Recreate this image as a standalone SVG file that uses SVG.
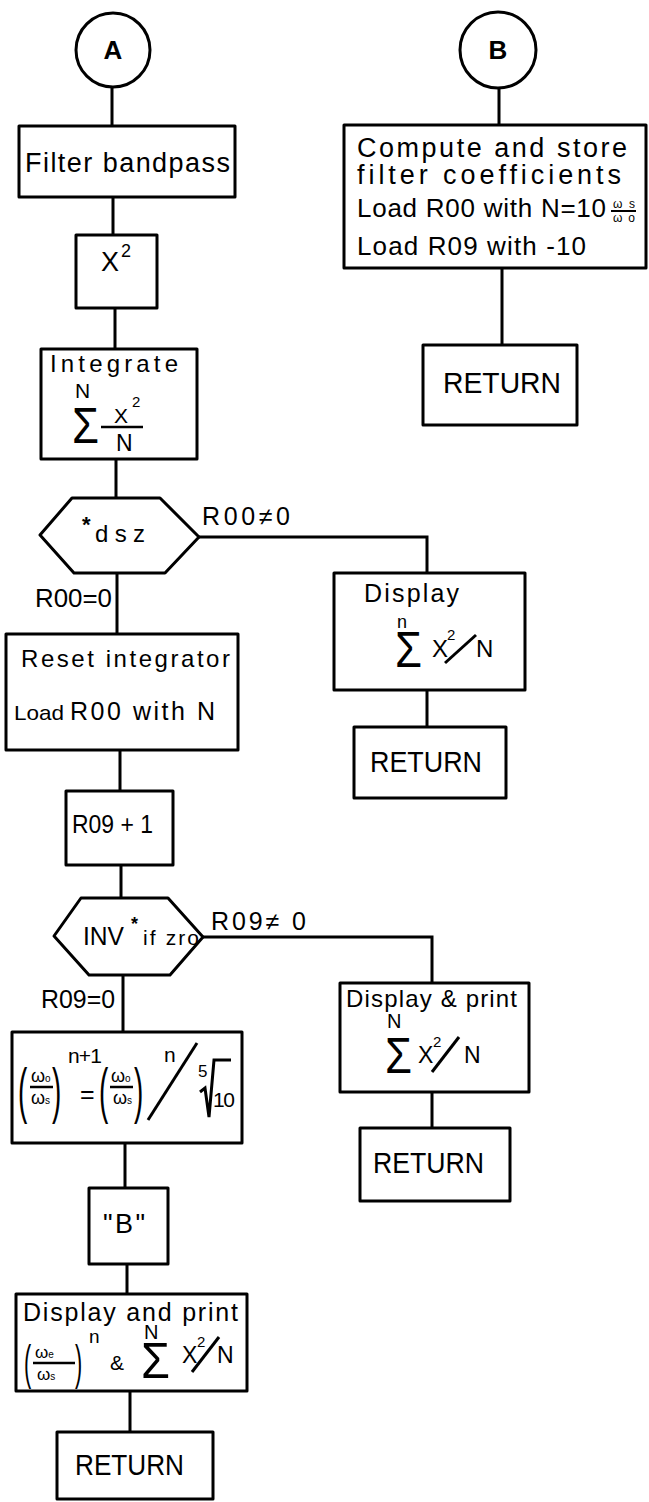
<svg xmlns="http://www.w3.org/2000/svg" width="649" height="1502" viewBox="0 0 649 1502">
<style>
.b{fill:#fff;stroke:#000;stroke-width:3;stroke-linejoin:round}
.c{fill:none;stroke:#000;stroke-width:3}
.s{fill:none;stroke:#000;stroke-width:2.5}
text{font-family:"Liberation Sans",Arial,sans-serif;fill:#000}
.t{font-size:25px}
.r{font-size:29px}
.g{font-size:50px}
</style>
<rect width="649" height="1502" fill="#fff"/>
<g id="connectors">
<path class="c" d="M112 87V126M113 197V235M115 308V349M116 459V498M117 573V634M120 750V791M121 865V898M123 975V1032M125 1143V1188M127 1264V1294M130 1391V1432"/>
<path class="c" d="M499 87V125M502 268V345"/>
<path class="c" d="M199 537H427V573M427 690V727"/>
<path class="c" d="M203 937H432V983M432 1092V1128"/>
<text class="t" x="202" y="525" textLength="88">R00≠0</text>
<text class="t" x="35" y="607" textLength="77" lengthAdjust="spacingAndGlyphs">R00=0</text>
<text class="t" x="211" y="930" textLength="95">R09≠ 0</text>
<text class="t" x="41" y="1008" textLength="74" lengthAdjust="spacingAndGlyphs">R09=0</text>
</g>
<g id="nodeA">
<circle class="b" cx="113" cy="50" r="37"/>
<text x="113" y="59" font-size="26" font-weight="bold" text-anchor="middle">A</text>
</g>
<g id="nodeB">
<circle class="b" cx="498" cy="50" r="38"/>
<text x="498" y="59" font-size="26" font-weight="bold" text-anchor="middle">B</text>
</g>
<g id="filter">
<rect class="b" x="19" y="126" width="216" height="71"/>
<text x="25" y="172" font-size="27" textLength="205">Filter bandpass</text>
</g>
<g id="square">
<rect class="b" x="76" y="235" width="81" height="73"/>
<text x="101" y="271" font-size="27">X</text>
<text x="121" y="257" font-size="18">2</text>
</g>
<g id="integrate">
<rect class="b" x="41" y="349" width="156" height="110"/>
<text x="50" y="372" font-size="24" textLength="128">Integrate</text>
<text x="75" y="398" font-size="21">N</text>
<text class="g" x="72" y="443" textLength="27" lengthAdjust="spacingAndGlyphs">Σ</text>
<text x="114" y="423" font-size="21">X</text>
<text x="132" y="407" font-size="15">2</text>
<line class="s" x1="101" y1="427" x2="143" y2="427"/>
<text x="116" y="451" font-size="23">N</text>
</g>
<g id="dsz">
<polygon class="b" points="40,535 72,498 160,498 199,537 165,573 74,573"/>
<text x="82" y="532" font-size="22" font-weight="bold">*</text>
<text x="95" y="542" font-size="24" textLength="50">dsz</text>
</g>
<g id="storeCoeffs">
<rect class="b" x="344" y="125" width="302" height="143"/>
<text x="357" y="157" font-size="27" textLength="270">Compute and store</text>
<text x="357" y="184" font-size="27" textLength="264">filter coefficients</text>
<text x="357" y="217" font-size="26" textLength="249">Load R00 with N=10</text>
<text x="613" y="208" font-size="12" textLength="22">ωs</text>
<line x1="611" y1="211" x2="636" y2="211" stroke="#000" stroke-width="2"/>
<text x="613" y="222" font-size="12" textLength="22">ωo</text>
<text x="357" y="255" font-size="26" textLength="229">Load R09 with -10</text>
</g>
<g id="returnB">
<rect class="b" x="423" y="345" width="154" height="80"/>
<text class="r" x="443" y="393" textLength="118" lengthAdjust="spacingAndGlyphs">RETURN</text>
</g>
<g id="display1">
<rect class="b" x="334" y="573" width="191" height="117"/>
<text class="t" x="364" y="602" textLength="95">Display</text>
<text x="397" y="628" font-size="18">n</text>
<text class="g" x="395" y="667" textLength="27" lengthAdjust="spacingAndGlyphs">Σ</text>
<text x="432" y="657" font-size="24">X</text>
<text x="447" y="640" font-size="15">2</text>
<line class="c" x1="445" y1="663" x2="476" y2="635"/>
<text x="476" y="657" font-size="24">N</text>
</g>
<g id="return1">
<rect class="b" x="354" y="727" width="152" height="71"/>
<text class="r" x="370" y="772" textLength="112" lengthAdjust="spacingAndGlyphs">RETURN</text>
</g>
<g id="reset">
<rect class="b" x="6" y="634" width="232" height="116"/>
<text x="21" y="667" font-size="24" textLength="209">Reset integrator</text>
<text x="14" y="720" font-size="21" textLength="50" lengthAdjust="spacingAndGlyphs">Load</text>
<text class="t" x="70" y="720" textLength="145">R00 with N</text>
</g>
<g id="r09inc">
<rect class="b" x="66" y="791" width="107" height="74"/>
<text class="t" x="72" y="833" textLength="81" lengthAdjust="spacingAndGlyphs">R09 + 1</text>
</g>
<g id="invzro">
<polygon class="b" points="54,936 81,898 168,898 203,937 170,975 89,975"/>
<text x="83" y="945" font-size="25" textLength="41" lengthAdjust="spacingAndGlyphs">INV</text>
<text x="131" y="930" font-size="18" font-weight="bold">*</text>
<text x="143" y="945" font-size="21" textLength="56">if zro</text>
</g>
<g id="display2">
<rect class="b" x="340" y="983" width="189" height="109"/>
<text x="346" y="1007" font-size="24" textLength="171">Display &amp; print</text>
<text x="387" y="1028" font-size="20">N</text>
<text class="g" x="385" y="1073" textLength="27" lengthAdjust="spacingAndGlyphs">Σ</text>
<text x="418" y="1063" font-size="23">X</text>
<text x="433" y="1047" font-size="15">2</text>
<line class="c" x1="432" y1="1072" x2="459" y2="1037"/>
<text x="464" y="1063" font-size="23">N</text>
</g>
<g id="return2">
<rect class="b" x="360" y="1128" width="150" height="73"/>
<text class="r" x="373" y="1173" textLength="111" lengthAdjust="spacingAndGlyphs">RETURN</text>
</g>
<g id="ratio">
<rect class="b" x="12" y="1032" width="230" height="111"/>
<text x="0" y="0" font-size="62" transform="translate(18,1111) scale(0.45,1)">(</text>
<text x="31" y="1082" font-size="18">ω<tspan font-size="10">o</tspan></text>
<line class="s" x1="30" y1="1087" x2="53" y2="1087"/>
<text x="31" y="1104" font-size="18">ω<tspan font-size="10">s</tspan></text>
<text x="0" y="0" font-size="62" transform="translate(52,1111) scale(0.45,1)">)</text>
<text x="68" y="1063" font-size="21" textLength="34">n+1</text>
<text x="80" y="1103" font-size="25">=</text>
<text x="0" y="0" font-size="62" transform="translate(99,1111) scale(0.45,1)">(</text>
<text x="111" y="1082" font-size="18">ω<tspan font-size="10">o</tspan></text>
<line class="s" x1="110" y1="1087" x2="133" y2="1087"/>
<text x="113" y="1104" font-size="18">ω<tspan font-size="10">s</tspan></text>
<text x="0" y="0" font-size="62" transform="translate(134,1111) scale(0.45,1)">)</text>
<text x="164" y="1062" font-size="21">n</text>
<line class="c" x1="148" y1="1120" x2="197" y2="1043"/>
<text x="198" y="1077" font-size="17">5</text>
<polyline class="c" points="200,1092 205,1088 209,1117 214,1060 231,1060"/>
<text x="213" y="1107" font-size="21" textLength="22">10</text>
</g>
<g id="callB">
<rect class="b" x="89" y="1188" width="79" height="76"/>
<text x="103" y="1233" font-size="27" textLength="42">"B"</text>
</g>
<g id="display3">
<rect class="b" x="16" y="1294" width="231" height="97"/>
<text class="t" x="23" y="1321" textLength="215">Display and print</text>
<text x="0" y="0" font-size="48" transform="translate(24,1379) scale(0.45,1)">(</text>
<text x="35" y="1358" font-size="17">ω<tspan font-size="10">e</tspan></text>
<line class="s" x1="33" y1="1363" x2="75" y2="1363"/>
<text x="37" y="1380" font-size="17">ω<tspan font-size="10">s</tspan></text>
<text x="0" y="0" font-size="48" transform="translate(75,1379) scale(0.45,1)">)</text>
<text x="89" y="1343" font-size="19">n</text>
<text x="110" y="1370" font-size="21">&amp;</text>
<text x="144" y="1339" font-size="20">N</text>
<text class="g" x="141" y="1378" textLength="29" lengthAdjust="spacingAndGlyphs">Σ</text>
<text x="182" y="1363" font-size="23">X</text>
<text x="197" y="1347" font-size="15">2</text>
<line class="c" x1="192" y1="1372" x2="219" y2="1337"/>
<text x="217" y="1363" font-size="23">N</text>
</g>
<g id="returnA">
<rect class="b" x="57" y="1432" width="156" height="67"/>
<text class="r" x="75" y="1475" textLength="109" lengthAdjust="spacingAndGlyphs">RETURN</text>
</g>
</svg>
